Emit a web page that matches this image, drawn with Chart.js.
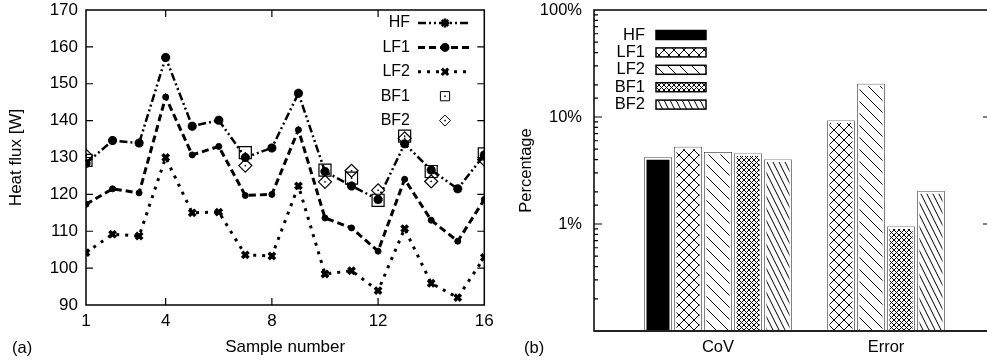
<!DOCTYPE html>
<html>
<head>
<meta charset="utf-8">
<script src="https://cdn.jsdelivr.net/npm/chart.js@4.4.0/dist/chart.umd.min.js"></script>
<style>
html, body { margin: 0; padding: 0; background: #fff; overflow: hidden; }
#wrap { position: relative; width: 987px; height: 362px; overflow: hidden; }
#boxA { position: absolute; left: 0; top: 0; width: 494px; height: 362px; }
#boxB { position: absolute; left: 494px; top: 0; width: 500px; height: 362px; }
.tag { position: absolute; top: 338px; font: 16.5px 'Liberation Sans', Arial, sans-serif; color: #000; line-height: 19px; }
</style>
</head>
<body>
<div id="wrap">
    <div id="boxA"><canvas id="myChart"></canvas></div>
    <div id="boxB"><canvas id="myChart2"></canvas></div>
    <div class="tag" style="left:12px">(a)</div>
    <div class="tag" style="left:524px">(b)</div>
</div>
<script>
// (a) heat flux per sample
var samples = [1, 2, 3, 4, 5, 6, 7, 8, 9, 10, 11, 12, 13, 14, 15, 16];
var sampleTicks = [1, 4, 8, 12, 16];
var hf  = [128.4, 134.6, 133.9, 157.1, 138.5, 140.1, 130.0, 132.6, 147.4, 126.2, 122.3, 118.6, 133.7, 126.6, 121.5, 130.7];
var lf1 = [117.3, 121.5, 120.4, 146.4, 130.7, 133.0, 119.7, 120.0, 137.5, 113.6, 110.9, 104.6, 124.1, 113.0, 107.3, 118.6];
var lf2 = [104.2, 109.2, 108.7, 130.0, 115.0, 115.2, 103.6, 103.3, 122.3, 98.4, 99.3, 93.9, 110.7, 95.9, 92.0, 102.9];
var bf1 = [129.2, null, null, null, null, null, 131.3, null, null, 126.6, 124.4, 118.4, 135.8, 126.2, null, 131.0];
var bf2 = [130.5, null, null, null, null, null, 127.8, null, null, 123.4, 126.4, 121.1, 135.2, 123.5, null, 129.4];

// (b) percentages
var barCategories = ['CoV', 'Error'];
var barSeries = ['HF', 'LF1', 'LF2', 'BF1', 'BF2'];
var covValues = [4.3, 5.4, 4.8, 4.65, 4.1];
var errorValues = [null, 9.5, 20.9, 0.97, 2.07];

var fuente = "'Liberation Sans', Arial, sans-serif";
Chart.defaults.font.family = fuente;
Chart.defaults.font.size = 17;
Chart.defaults.color = '#000';

function puntos(valores){
    var out = [];
    for(var i = 0; i < samples.length; i++){
        out.push({x: samples[i], y: valores[i]});
    }
    return out;
}

// hatch patterns like gnuplot fill patterns
function patron(tipo){
    var c = document.createElement('canvas');
    var w = 10, h = 10;
    if (tipo == 'bigx') { w = 10; h = 10; }
    if (tipo == 'bigback') { w = 12; h = 12; }
    if (tipo == 'finex') { w = 5; h = 5; }
    if (tipo == 'fineback') { w = 6; h = 12; }
    c.width = w; c.height = h;
    var g = c.getContext('2d');
    g.fillStyle = tipo == 'solid' ? '#000' : '#fff';
    g.fillRect(0, 0, w, h);
    if (tipo != 'solid') {
        g.strokeStyle = '#000';
        g.lineWidth = 1;
        g.beginPath();
        for(var k = -1; k <= 1; k++){
            g.moveTo(k*w, 0); g.lineTo(k*w + w, h);
            if (tipo == 'bigx' || tipo == 'finex') {
                g.moveTo(k*w + w, 0); g.lineTo(k*w, h);
            }
        }
        g.stroke();
    }
    var ctx = document.createElement('canvas').getContext('2d');
    return ctx.createPattern(c, 'repeat');
}
var rellenos = [patron('solid'), patron('bigx'), patron('bigback'), patron('finex'), patron('fineback')];

// no extra room for half labels, the frame sits where gnuplot put it
function sinRelleno(s){
    s.paddingTop = 0; s.paddingBottom = 0;
    s.paddingLeft = 0; s.paddingRight = 0;
}

// frame with inward ticks on all sides
var marcoGnuplot = {
    id: 'marcoGnuplot',
    afterDraw: function(chart, args, opts){
        var ctx = chart.ctx, a = chart.chartArea;
        var xs = chart.scales.x, ys = chart.scales.y;
        ctx.save();
        ctx.strokeStyle = '#000';
        ctx.lineWidth = 1.2;
        ctx.beginPath();
        if (opts.xTicks) {
            xs.ticks.forEach(function(t){
                var px = xs.getPixelForValue(t.value);
                if (px <= a.left + 1 || px >= a.right - 1) return;
                ctx.moveTo(px, a.bottom); ctx.lineTo(px, a.bottom - opts.tickLen);
                ctx.moveTo(px, a.top); ctx.lineTo(px, a.top + opts.tickLen);
            });
        }
        ys.ticks.forEach(function(t){
            var py = ys.getPixelForValue(t.value);
            if (py >= a.bottom - 1 || py <= a.top + 1) return;
            var len = opts.tickLen;
            if (opts.logMinor) {
                var e = Math.log10(t.value);
                if (Math.abs(e - Math.round(e)) > 0.001) len = opts.minorLen;
            }
            ctx.moveTo(a.left, py); ctx.lineTo(a.left + len, py);
            ctx.moveTo(a.right, py); ctx.lineTo(a.right - len, py);
        });
        ctx.stroke();
        ctx.lineWidth = 1.5;
        ctx.strokeRect(a.left, a.top, a.right - a.left, a.bottom - a.top);
        if (opts.bottomWidth) {
            ctx.lineWidth = opts.bottomWidth;
            ctx.strokeStyle = '#222';
            ctx.beginPath();
            ctx.moveTo(a.left, a.bottom); ctx.lineTo(a.right, a.bottom);
            ctx.stroke();
        }
        ctx.restore();
    }
};

// legend of (a): text then line sample, gnuplot style
var leyendaLineas = {
    id: 'leyendaLineas',
    afterDatasetsDraw: function(chart, args, opts){
        var ctx = chart.ctx;
        chart.data.datasets.forEach(function(ds, i){
            var y = opts.top + i * opts.gap;
            ctx.save();
            ctx.font = opts.fontSize + 'px ' + fuente;
            ctx.fillStyle = '#000';
            ctx.textAlign = 'right';
            ctx.textBaseline = 'middle';
            ctx.fillText(ds.label, opts.textRight, y);
            ctx.strokeStyle = '#000';
            if (ds.showLine !== false) {
                ctx.setLineDash(ds.borderDash || []);
                ctx.lineWidth = ds.borderWidth;
                ctx.beginPath();
                ctx.moveTo(opts.lineLeft, y);
                ctx.lineTo(opts.lineRight, y);
                ctx.stroke();
            }
            ctx.setLineDash([]);
            ctx.fillStyle = ds.pointBackgroundColor;
            Chart.helpers.drawPoint(ctx, {
                pointStyle: ds.pointStyle, rotation: 0,
                radius: ds.radioLeyenda || ds.pointRadius, borderWidth: ds.pointBorderWidth
            }, opts.markX, y);
            if (ds.puntoCentro) {
                ctx.fillStyle = '#000';
                ctx.fillRect(opts.markX - 0.75, y - 0.75, 1.5, 1.5);
            }
            ctx.restore();
        });
        // little dot inside open markers
        chart.data.datasets.forEach(function(ds, i){
            if (!ds.puntoCentro) return;
            chart.getDatasetMeta(i).data.forEach(function(p){
                if (p.skip) return;
                ctx.fillStyle = '#000';
                ctx.fillRect(p.x - 0.75, p.y - 0.75, 1.5, 1.5);
            });
        });
    }
};

// legend of (b): text then pattern swatch
var leyendaBarras = {
    id: 'leyendaBarras',
    afterDatasetsDraw: function(chart, args, opts){
        var ctx = chart.ctx;
        chart.data.datasets.forEach(function(ds, i){
            var y = opts.top + i * opts.gap;
            ctx.save();
            ctx.font = opts.fontSize + 'px ' + fuente;
            ctx.fillStyle = '#000';
            ctx.textAlign = 'right';
            ctx.textBaseline = 'middle';
            ctx.fillText(ds.label, opts.textRight, y);
            ctx.fillStyle = ds.backgroundColor;
            ctx.fillRect(opts.boxLeft, y - opts.boxH/2, opts.boxW, opts.boxH);
            ctx.strokeStyle = '#000';
            ctx.lineWidth = 1.5;
            ctx.strokeRect(opts.boxLeft, y - opts.boxH/2, opts.boxW, opts.boxH);
            ctx.restore();
        });
    }
};

var ctx = document.getElementById('myChart').getContext('2d');
var myChart = new Chart(ctx, {
    type: 'line',
    data: {
        datasets: [{
            label: 'HF',
            data: puntos(hf),
            borderColor: '#000', borderWidth: 2.5, borderDash: [8, 3, 2, 3, 2, 3],
            pointStyle: 'star', pointRadius: 4.5, pointBorderWidth: 3,
            pointBackgroundColor: '#000', pointBorderColor: '#000'
        }, {
            label: 'LF1',
            data: puntos(lf1),
            borderColor: '#000', borderWidth: 3, borderDash: [7, 4],
            pointStyle: 'circle', pointRadius: 3, pointBorderWidth: 1,
            pointBackgroundColor: '#000', pointBorderColor: '#000'
        }, {
            label: 'LF2',
            data: puntos(lf2),
            borderColor: '#000', borderWidth: 3, borderDash: [3, 6],
            pointStyle: 'crossRot', pointRadius: 4.5, pointBorderWidth: 3.5,
            pointBackgroundColor: '#000', pointBorderColor: '#000'
        }, {
            label: 'BF1',
            data: puntos(bf1),
            showLine: false, puntoCentro: true, radioLeyenda: 6.5,
            pointStyle: 'rect', pointRadius: 8.5, pointBorderWidth: 1.2,
            pointBackgroundColor: 'rgba(0,0,0,0)', pointBorderColor: '#000'
        }, {
            label: 'BF2',
            data: puntos(bf2),
            showLine: false, puntoCentro: true, radioLeyenda: 5.5,
            pointStyle: 'rectRot', pointRadius: 6.5, pointBorderWidth: 1.2,
            pointBackgroundColor: 'rgba(0,0,0,0)', pointBorderColor: '#000'
        }]
    },
    options: {
        responsive: true,
        maintainAspectRatio: false,
        animation: false,
        layout: { padding: { top: 10, right: 9, left: 0, bottom: 0 } },
        elements: { line: { tension: 0 } },
        plugins: {
            legend: { display: false },
            tooltip: { enabled: false },
            marcoGnuplot: { xTicks: true, tickLen: 7 },
            leyendaLineas: { top: 23, gap: 24.4, textRight: 410, lineLeft: 418, lineRight: 470, markX: 445, fontSize: 16 }
        },
        scales: {
            x: {
                type: 'linear', min: 1, max: 16,
                afterBuildTicks: function(s){ s.ticks = sampleTicks.map(function(v){ return {value: v}; }); },
                afterFit: function(s){ s.height = 57; sinRelleno(s); },
                grid: { display: false, drawTicks: false },
                border: { display: false },
                ticks: { padding: 6, maxRotation: 0, autoSkip: false },
                title: { display: true, text: 'Sample number', padding: { top: 0, bottom: 4 } }
            },
            y: {
                min: 90, max: 170,
                afterFit: function(s){ s.width = 86; sinRelleno(s); },
                grid: { display: false, drawTicks: false },
                border: { display: false },
                ticks: { stepSize: 10, padding: 8 },
                title: { display: true, text: 'Heat flux [W]', padding: { top: 6, bottom: 0 } }
            }
        }
    },
    plugins: [marcoGnuplot, leyendaLineas]
});

var barDatasets = [];
for(var s = 0; s < barSeries.length; s++){
    barDatasets.push({
        label: barSeries[s],
        data: [{x: 0, y: covValues[s]}, {x: 1, y: errorValues[s]}],
        backgroundColor: rellenos[s],
        borderColor: '#000',
        borderWidth: 2.5,
        borderSkipped: 'start',
        inflateAmount: -1,
        barThickness: 30,
        skipNull: true
    });
}

var ctx2 = document.getElementById('myChart2').getContext('2d');
var myChart2 = new Chart(ctx2, {
    type: 'bar',
    data: { datasets: barDatasets },
    options: {
        responsive: true,
        maintainAspectRatio: false,
        animation: false,
        skipNull: true,
        layout: { padding: { top: 10, right: 3, left: 0, bottom: 0 } },
        plugins: {
            legend: { display: false },
            tooltip: { enabled: false },
            marcoGnuplot: { xTicks: false, tickLen: 8, logMinor: true, minorLen: 4, bottomWidth: 2 },
            leyendaBarras: { top: 35, gap: 17.4, textRight: 151, boxLeft: 162, boxW: 50, boxH: 9, fontSize: 16.5 }
        },
        scales: {
            x: {
                type: 'linear', min: -0.738, max: 1.625, offset: false,
                afterBuildTicks: function(s){ s.ticks = barCategories.map(function(c, i){ return {value: i}; }); },
                afterFit: function(s){ s.height = 31; sinRelleno(s); },
                grid: { display: false, drawTicks: false, offset: false },
                border: { display: false },
                ticks: {
                    padding: 7, maxRotation: 0, autoSkip: false, font: { size: 16.5 },
                    callback: function(v){ return barCategories[v]; }
                }
            },
            y: {
                type: 'logarithmic', min: 0.1, max: 100,
                afterFit: function(s){ s.width = 100; sinRelleno(s); },
                grid: { display: false, drawTicks: false },
                border: { display: false },
                ticks: {
                    padding: 12, autoSkip: false, font: { size: 16.5 },
                    callback: function(v){
                        var e = Math.log10(v);
                        if (Math.abs(e - Math.round(e)) < 0.001 && v >= 1) return v + '%';
                        return '';
                    }
                },
                title: { display: true, text: 'Percentage', font: { size: 16.5 }, padding: { top: 23, bottom: 0 } }
            }
        }
    },
    plugins: [marcoGnuplot, leyendaBarras]
});
</script>
</body>
</html>
